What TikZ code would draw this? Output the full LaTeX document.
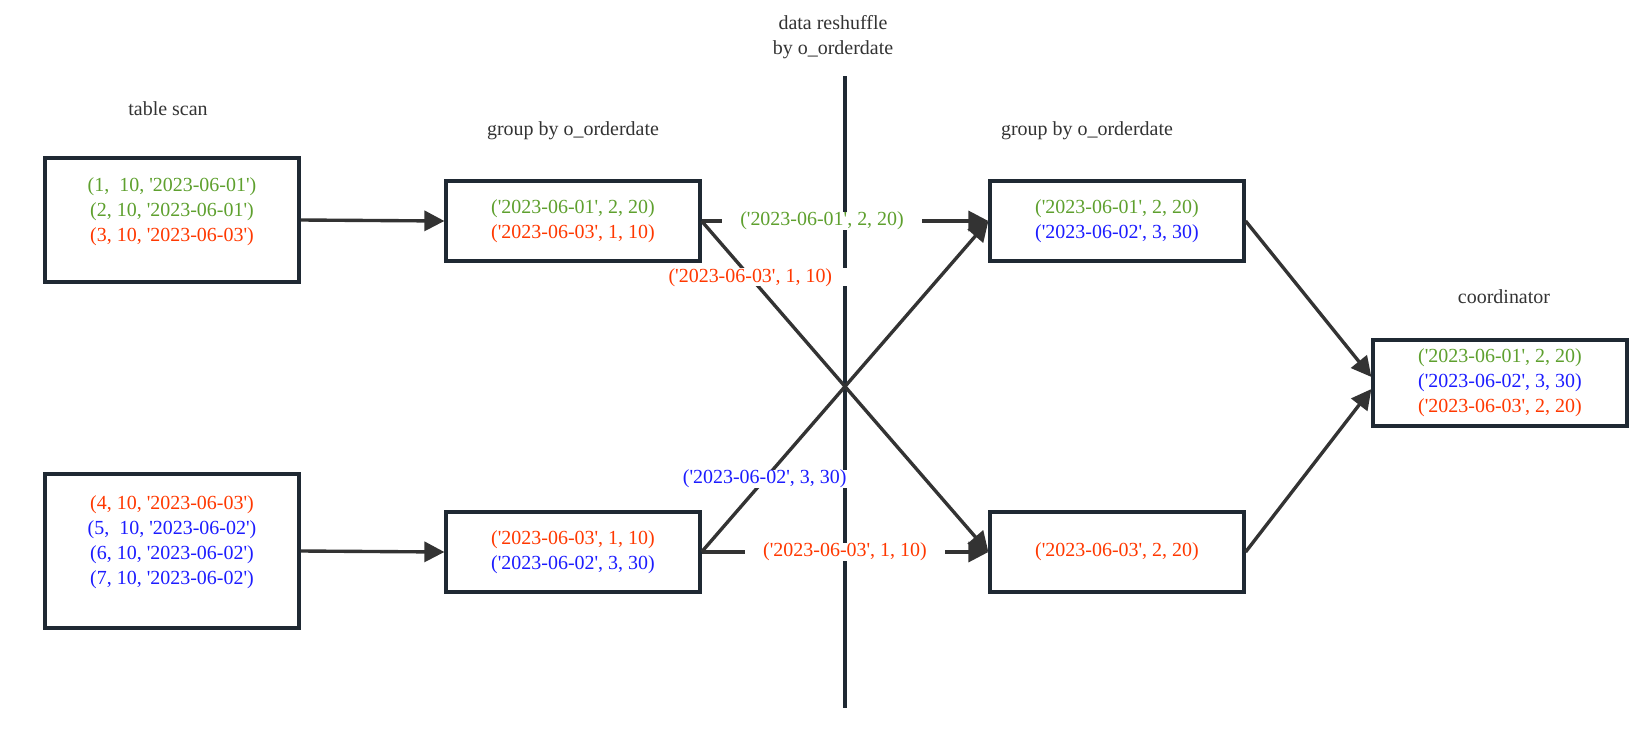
\documentclass[tikz,border=0pt]{standalone}
\usepackage{fontspec}
\setmainfont{Liberation Serif}[Ligatures=TeXOff]
\usepackage{xcolor}
\usepackage{tikz}
\usetikzlibrary{arrows.meta, positioning}
\definecolor{gtxt}{RGB}{94,160,46}
\definecolor{rtxt}{RGB}{255,56,0}
\definecolor{btxt}{RGB}{28,28,255}
\definecolor{boxc}{RGB}{31,41,51}
\definecolor{arrc}{RGB}{51,51,51}

\begin{document}
\begin{tikzpicture}[x=0.025cm, y=-0.025cm,
    b/.style={draw=boxc, line width=2.8pt, align=center, minimum width=6.33cm, inner sep=0pt},
    arr/.style={-{Triangle[length=5mm, width=5mm]}, line width=2.4pt, draw=arrc},
    lbl/.style={fill=white, inner xsep=0.45cm, inner ysep=0pt},
    ttl/.style={text=arrc, align=center},
    font=\fontsize{14.2pt}{17.8pt}\selectfont]
    \useasboundingbox (0,0) rectangle (1640,732);
    \node[b, minimum height=3.08cm, text depth=15pt] (scan1) at (172,220) {\textcolor{gtxt}{(1,~ 10, '2023-06-01')}\\\textcolor{gtxt}{(2, 10, '2023-06-01')}\\\textcolor{rtxt}{(3, 10, '2023-06-03')}};
    \node[b, minimum height=3.83cm, text depth=15pt] (scan2) at (172,551) {\textcolor{rtxt}{(4, 10, '2023-06-03')}\\\textcolor{btxt}{(5,~ 10, '2023-06-02')}\\\textcolor{btxt}{(6, 10, '2023-06-02')}\\\textcolor{btxt}{(7, 10, '2023-06-02')}};
    \node[b, minimum height=2.0cm] (agg1) at (573,221) {\textcolor{gtxt}{('2023-06-01', 2, 20)}\\\textcolor{rtxt}{('2023-06-03', 1, 10)}};
    \node[b, minimum height=2.0cm] (agg2) at (573,552) {\textcolor{rtxt}{('2023-06-03', 1, 10)}\\\textcolor{btxt}{('2023-06-02', 3, 30)}};
    \node[b, minimum height=2.0cm] (merge1) at (1117,221) {\textcolor{gtxt}{('2023-06-01', 2, 20)}\\\textcolor{btxt}{('2023-06-02', 3, 30)}};
    \node[b, minimum height=2.0cm] (merge2) at (1117,552) {\textcolor{rtxt}{('2023-06-03', 2, 20)}};
    \node[b, minimum height=2.15cm] (coord) at (1500,383) {\textcolor{gtxt}{('2023-06-01', 2, 20)}\\\textcolor{btxt}{('2023-06-02', 3, 30)}\\\textcolor{rtxt}{('2023-06-03', 2, 20)}};
    \node[ttl] (t1) at (168,109) {table scan};
    \node[ttl] (t2) at (573,131) {group by o\_orderdate};
    \node[ttl] (t3) at (1087,131) {group by o\_orderdate};
    \node[ttl] (t4) at (1504,297) {coordinator};
    \node[ttl] (t5) at (833,37) {data reshuffle\\by o\_orderdate};
    \coordinate (cut1) at (845,76);
    \coordinate (cut2) at (845,708);
    \draw[draw=boxc, line width=3.5pt] (cut1) -- (cut2);
    \draw[arr] (scan1.east) -- (agg1.west);
    \draw[arr] (scan2.east) -- (agg2.west);
    \draw[arr] (agg1.east) -- node[lbl, pos=0.42, text=gtxt] {('2023-06-01', 2, 20)} (merge1.west);
    \draw[arr] (agg1.east) -- node[lbl, pos=0.17, text=rtxt] {('2023-06-03', 1, 10)} (merge2.west);
    \draw[arr] (agg2.east) -- node[lbl, pos=0.22, text=btxt] {('2023-06-02', 3, 30)} (merge1.west);
    \draw[arr] (agg2.east) -- node[lbl, pos=0.5, text=rtxt] {('2023-06-03', 1, 10)} (merge2.west);
    \draw[arr] (merge1.east) -- ([yshift=0.15cm]coord.west);
    \draw[arr] (merge2.east) -- ([yshift=-0.15cm]coord.west);
  \end{tikzpicture}
\end{document}
